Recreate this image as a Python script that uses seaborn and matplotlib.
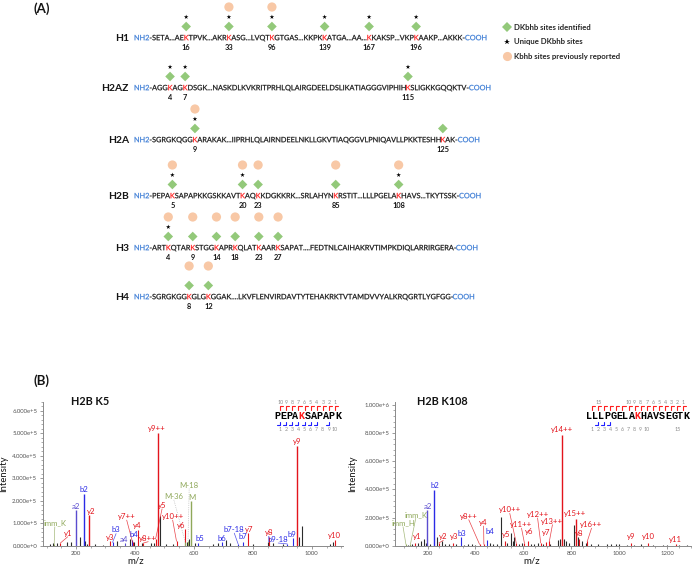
import numpy as np
import pandas as pd
import seaborn as sns
import matplotlib
matplotlib.use("Agg")
import matplotlib.pyplot as plt
from matplotlib.lines import Line2D
from matplotlib.patches import PathPatch
from matplotlib.textpath import TextPath
from matplotlib.font_manager import FontProperties, findfont, get_font
from matplotlib.ticker import FuncFormatter, MultipleLocator, AutoMinorLocator

# ---------------- panel A: histone sequences ----------------
histones = ["H1", "H2AZ", "H2A", "H2B", "H3", "H4"]
# lowercase k marks a detected lysine site
sequences = [
    "SETA...AEkTPVK...AKRkASG...LVQTkGTGAS...KKPKkATGA...AA...kKAKSP...VKPkAAKP...AKKK",
    "AGGkAGkDSGK...NASKDLKVKRITPRHLQLAIRGDEELDSLIKATIAGGGVIPHIHkSLIGKKGQQKTV",
    "SGRGKQGGkARAKAK...IIPRHLQLAIRNDEELNKLLGKVTIAQGGVLPNIQAVLLPKKTESHHkAK",
    "PEPAkSAPAPKKGSKKAVTkAQkKDGKKRK...SRLAHYNkRSTIT...LLLPGELAkHAVS...TKYTSSK",
    "ARTkQTARkSTGGkAPRkQLATkAARkSAPAT....FEDTNLCAIHAKRVTIMPKDIQLARRIRGERA",
    "SGRGKGGkGLGkGGAK....LKVFLENVIRDAVTYTEHAKRKTVTAMDVVYALKRQGRTLYGFGG",
]
site_numbers = [
    [16, 33, 96, 139, 167, 196],
    [4, 7, 115],
    [9, 125],
    [5, 20, 23, 85, 108],
    [4, 9, 14, 18, 23, 27],
    [8, 12],
]
unique_sites = [
    [1, 1, 1, 1, 1, 1],
    [1, 1, 1],
    [1, 0],
    [1, 1, 0, 0, 1],
    [1, 0, 0, 0, 0, 0],
    [0, 0],
]
reported_sites = [
    [0, 1, 1, 0, 0, 0],
    [0, 0, 0],
    [1, 0],
    [1, 1, 1, 1, 1],
    [1, 1, 1, 1, 1, 1],
    [1, 1],
]
legend_labels = ["DKbhb sites identified", "Unique DKbhb sites", "Kbhb sites previously reported"]

# ---------------- panel B: MS/MS spectra ----------------
k5_title = "H2B K5"
k5_peptide = "PEPAKSAPAPK"
k5_ions = ["imm_K", "y1", "a2", "b2", "y2", "y3", "b3", "a4", "b4", "y7++", "y4", "y8++",
           "y9++", "y5", "y10++", "y6", "M-36", "M-18", "M", "b5", "b6", "b7-18", "b7",
           "y7", "y8", "b9-18", "b9", "y9", "y10"]
k5_mz = [126, 147, 199, 227, 245, 316, 324, 367, 389, 392, 409, 429,
         477, 470, 541, 570, 571, 580, 590, 614, 697, 750, 768,
         784, 855, 917, 935, 951, 1080]
k5_int = [8e3, 1.2e4, 1.59e5, 2.3e5, 1.35e5, 2e4, 1.5e4, 1e4, 2.5e4, 1.5e4, 7e4, 1.2e4,
          5.0e5, 3e4, 2e4, 7.3e4, 1.5e4, 2e4, 1.99e5, 1e4, 1.5e4, 8e3, 1.5e4,
          5.5e4, 4e4, 8e3, 3.3e4, 4.44e5, 2.5e4]
k5_other_mz = [112, 123, 134, 168, 182, 214, 231, 238, 264, 293, 338, 383, 398, 423, 456,
               464, 486, 507, 530, 575, 583, 603, 666, 683, 708, 722, 801, 850, 869, 903,
               956, 967, 1061, 1072]
k5_other_int = [7e3, 1e4, 1.3e4, 1.8e4, 1.5e4, 4e4, 2.2e4, 8e3, 6e3, 5e3, 2.2e4, 2.8e4,
                1.5e4, 1e4, 1e4, 1e4, 1.33e5, 8e3, 6e3, 1.5e4, 3e4, 1e4, 6e3, 1.2e4,
                2.5e4, 1e4, 8e3, 1.5e4, 1e4, 7e3, 4e4, 8.8e4, 8e3, 1.5e4]

k108_title = "H2B K108"
k108_peptide = "LLLPGELAKHAVSEGTK"
k108_ions = ["imm_H", "imm_K", "y1", "a2", "b2", "y2", "y3", "b3", "y8++", "y4", "b4",
             "y5", "y10++", "y11++", "y6", "y12++", "y7", "y13++", "y14++", "y15++",
             "y8", "y16++", "y9", "y10", "y11"]
k108_mz = [110, 129, 147, 199, 227, 248, 306, 340, 417, 435, 447,
           523, 570, 604, 618, 672, 693, 708, 761, 819,
           832, 866, 1049, 1120, 1235]
k108_int = [1e4, 1.2e4, 1.8e4, 2.52e5, 3.98e5, 2e4, 2e4, 6e4, 1e4, 1e4, 4e4,
            3e4, 2e4, 2e4, 3e4, 2e4, 2.5e4, 3e4, 7.88e5, 1.9e5,
            5e4, 3e4, 2e4, 2e4, 1.5e4]
k108_other_mz = [120, 135, 160, 172, 185, 195, 212, 238, 262, 275, 290, 320, 352, 370,
                 385, 400, 460, 475, 490, 506, 530, 547, 555, 562, 580, 595, 630, 645,
                 660, 680, 710, 745, 752, 770, 778, 790, 812, 826, 845, 860, 880, 910,
                 950, 965, 985, 1000, 1030, 1060, 1090, 1140, 1180, 1200, 1250, 1280]
k108_other_int = [8e3, 1.5e4, 2e4, 3.5e4, 4.5e4, 2.2e4, 1.5e4, 6e4, 3e4, 1.5e4, 1e4,
                  1.2e4, 8e3, 1.2e4, 1e4, 8e3, 2e4, 1.5e4, 1.2e4, 2.05e5, 1.8e4, 9e4,
                  3.5e4, 6e4, 1.5e4, 2e4, 1.5e4, 1.5e4, 2e4, 1.5e4, 1.2e4, 4e4, 5e4,
                  5e4, 3e4, 2e4, 1.5e5, 6e4, 3e4, 2e4, 1.2e4, 1e4, 1.5e4, 1.5e4, 1.2e4,
                  1e4, 8e3, 8e3, 1e4, 8e3, 8e3, 6e3, 8e3, 6e3]

# label placement (m/z, intensity) for each ion label, layout only
k5_label_pos = [(128, 1.0e5), (172, 5.6e4), (199, 1.76e5), (227, 2.48e5), (250, 1.52e5),
                (315, 3.6e4), (336, 7e4), (362, 2.7e4), (397, 4.8e4), (372, 1.3e5),
                (409, 9e4), (445, 3.4e4), (474, 5.2e5), (492, 1.8e5), (528, 1.3e5),
                (558, 8.8e4), (532, 2.2e5), (584, 2.7e5), (594, 2.16e5), (620, 3.4e4),
                (695, 3.4e4), (737, 7.2e4), (767, 4e4), (786, 7.2e4), (855, 5.7e4),
                (886, 2.8e4), (934, 5.2e4), (950, 4.62e5), (1078, 4.6e4)]
k108_label_pos = [(98, 1.6e5), (151, 2.2e5), (156, 6.4e4), (203, 2.8e5), (232, 4.3e5),
                  (266, 6.4e4), (309, 6.4e4), (344, 8.9e4), (372, 2.1e5), (434, 1.65e5),
                  (458, 9.9e4), (526, 8e4), (543, 2.55e5), (592, 1.5e5), (622, 9.9e4),
                  (659, 2.22e5), (694, 9.2e4), (721, 1.75e5), (759, 8.25e5), (815, 2.3e5),
                  (834, 8.9e4), (884, 1.5e5), (1049, 6.4e4), (1120, 6.8e4), (1235, 4.6e4)]

# ---------------- style ----------------
sns.set_style("white")
plt.rcParams["font.family"] = ["Lato", "DejaVu Sans"]

DARK = "#141414"
BLUE_TXT = "#3a7bd5"
RED_K = "#ff1a1a"
GREEN_D = "#93c97a"
PEACH = "#f8c8a6"
ION_COLORS = {"y": "#e3141c", "b": "#2a2ae6", "a": "#5a4ccf", "g": "#8fa85a"}

W, H = 692, 564
fig = plt.figure(figsize=(W / 100, H / 100), dpi=100)
# panel A canvas works in pixels, y measured downward from the top via Y()
axA = fig.add_axes([0, 0, 1, 1])


def Y(px):
    return H - px


# sequence text is drawn as paths so every residue sits on a sub-pixel position
seq_prop = FontProperties(family="Lato")
seq_font = get_font(findfont(seq_prop))
seq_font.set_size(100, 72)


def advances(s):
    return np.array([seq_font.load_char(ord(c)).linearHoriAdvance / 65536 for c in s])


seq_x0, seq_x1 = 134, 487
probe = "NH2-" + sequences[0].upper() + "-COOH"
probe_ink = TextPath((0, 0), probe, size=100, prop=seq_prop).get_extents().width
unit = probe_ink / advances(probe).sum()
scale = (seq_x1 - seq_x0) / probe_ink
seq_size = 100 * scale  # em size in pixels

row_y = [37, 87, 139, 195, 247, 296]
offsets = {"DKbhb": -10.5, "unique": -20, "reported": -30}

marks = []
for i, name in enumerate(histones):
    y = row_y[i]
    axA.text(129, Y(y + 3.6), name, fontsize=7.4, weight="bold", ha="right", va="baseline", color=DARK)
    full = "NH2-" + sequences[i].upper() + "-COOH"
    pen = seq_x0 + np.concatenate([[0], np.cumsum(advances(full))]) * unit * scale
    colours = [DARK] * len(full)
    colours[0:3] = [BLUE_TXT] * 3
    colours[-4:] = [BLUE_TXT] * 4
    k_idx = [4 + j for j, ch in enumerate(sequences[i]) if ch == "k"]
    for kk in k_idx:
        colours[kk] = RED_K
    # group consecutive characters of the same colour
    start = 0
    for end in range(1, len(full) + 1):
        if end == len(full) or colours[end] != colours[start]:
            tp = TextPath((pen[start], Y(y + 3.2)), full[start:end], size=seq_size, prop=seq_prop)
            axA.add_patch(PathPatch(tp, facecolor=colours[start], edgecolor=colours[start], lw=0.15))
            start = end
    k_centres = [(pen[kk] + pen[kk + 1]) / 2 for kk in k_idx]

    for j, kx in enumerate(k_centres):
        axA.text(kx, Y(y + 10.5), str(site_numbers[i][j]), fontsize=5.3, weight="bold",
                 ha="center", va="center", color=DARK)
        marks.append({"x": kx, "y": Y(y + offsets["DKbhb"]), "kind": "DKbhb"})
        if unique_sites[i][j]:
            marks.append({"x": kx, "y": Y(y + offsets["unique"]), "kind": "unique"})
        if reported_sites[i][j]:
            marks.append({"x": kx, "y": Y(y + offsets["reported"]), "kind": "reported"})

marks = pd.DataFrame(marks)
sns.scatterplot(
    data=marks, x="x", y="y", hue="kind", style="kind", size="kind",
    palette={"DKbhb": GREEN_D, "unique": "black", "reported": PEACH},
    markers={"DKbhb": "D", "unique": "*", "reported": "o"},
    sizes={"DKbhb": 24, "unique": 12, "reported": 44},
    linewidth=0, legend=False, ax=axA, zorder=3,
)
axA.set_xlim(0, W)
axA.set_ylim(0, H)
axA.axis("off")

handles = [
    Line2D([], [], ls="", marker="D", color=GREEN_D, markersize=5, markeredgewidth=0),
    Line2D([], [], ls="", marker="*", color="black", markersize=3.8, markeredgewidth=0),
    Line2D([], [], ls="", marker="o", color=PEACH, markersize=6.6, markeredgewidth=0),
]
fig.legend(handles, legend_labels, loc="upper left", bbox_to_anchor=(0.722, 0.963),
           frameon=False, prop={"size": 5.6, "weight": "bold"}, handlelength=1.0,
           handletextpad=0.5, labelspacing=0.95, borderaxespad=0)

axA.text(33, Y(9), "(A)", fontsize=9.5, weight="bold", ha="left", va="center", color=DARK)
axA.text(33, Y(381), "(B)", fontsize=9.5, weight="bold", ha="left", va="center", color=DARK)


# ---------------- spectra ----------------
def sci_fmt(v, pos):
    if v == 0:
        return "0.000e+0"
    e = int(np.floor(np.log10(abs(v)) + 1e-9))
    return f"{v / 10 ** e:.3f}e+{e}"


def draw_peptide(ax, seq, cx, cy, y_seen, b_seen):
    bbox = ax.get_position()
    w_px = bbox.width * W
    h_px = bbox.height * H
    fs = 7.3
    cw = 0.6 * fs * 100 / 72 / w_px
    px_y = 1 / h_px
    n = len(seq)
    x0 = cx - n * cw / 2
    for i, ch in enumerate(seq):
        ax.text(x0 + (i + 0.5) * cw, cy, ch, transform=ax.transAxes, fontsize=fs,
                family="Liberation Mono", weight="bold", ha="center", va="center",
                color=RED_K if (ch == "K" and i < n - 1) else "black")
    for j in range(1, n):
        gx = x0 + j * cw
        yk = n - j
        if yk in y_seen:
            ax.plot([gx, gx, gx + 0.5 * cw], [cy + 6 * px_y, cy + 9.5 * px_y, cy + 9.5 * px_y],
                    transform=ax.transAxes, color="#ff2020", lw=0.8, clip_on=False)
        if yk <= 10 or yk == 15:
            ax.text(gx, cy + 13.5 * px_y, str(yk), transform=ax.transAxes, fontsize=3.8,
                    ha="center", va="center", color="#8c8c8c")
        if j in b_seen:
            ax.plot([gx - 0.5 * cw, gx, gx], [cy - 9.5 * px_y, cy - 9.5 * px_y, cy - 6 * px_y],
                    transform=ax.transAxes, color="#2020ff", lw=0.8, clip_on=False)
        if j <= 10 or j == 15:
            ax.text(gx, cy - 13.5 * px_y, str(j), transform=ax.transAxes, fontsize=3.8,
                    ha="center", va="center", color="#8c8c8c")


def draw_spectrum(ax, title, ions, mz, inten, other_mz, other_int, label_pos,
                  xlim, ymax, ystep, xlab_x, ylab_x, title_x):
    ax.set_facecolor("none")
    ax.vlines(other_mz, 0, other_int, color="#2b2b2b", lw=0.8)
    kinds = [("g" if ion.startswith(("imm", "M")) else ion[0]) for ion in ions]
    for ion, kind, m, it, (lx, ly) in zip(ions, kinds, mz, inten, label_pos):
        col = ION_COLORS[kind]
        ax.vlines(m, 0, it, color=col, lw=1.0 if it > 1e5 else 0.8)
        ax.text(lx, ly, ion, fontsize=5.6, color=col, ha="center", va="center")
        if abs(lx - m) > 12 or ly - it > 0.07 * ymax:
            style = ":" if ion.startswith("M-") else "-"
            lcol = "#999999" if ion.startswith("M-") else col
            ax.plot([lx, m], [ly - 0.025 * ymax, it], color=lcol, lw=0.5, ls=style, alpha=0.8)
    ax.set_xlim(*xlim)
    ax.set_ylim(0, ymax)
    ax.yaxis.set_major_locator(MultipleLocator(ystep))
    ax.yaxis.set_minor_locator(AutoMinorLocator(5))
    ax.xaxis.set_major_locator(MultipleLocator(200))
    ax.xaxis.set_minor_locator(AutoMinorLocator(4))
    ax.yaxis.set_major_formatter(FuncFormatter(sci_fmt))
    ax.tick_params(axis="both", which="major", length=2.5, width=0.6, colors="#8a8a8a",
                   labelsize=4.3, labelcolor="#555555", pad=1.5)
    ax.tick_params(axis="both", which="minor", length=1.3, width=0.5, colors="#8a8a8a")
    ax.tick_params(axis="x", which="both", bottom=True)
    ax.tick_params(axis="y", which="both", left=True)
    sns.despine(ax=ax)
    for s in ("left", "bottom"):
        ax.spines[s].set_color("#8a8a8a")
        ax.spines[s].set_linewidth(0.7)
    ax.set_ylabel("Intensity", fontsize=6.8, color=DARK)
    ax.set_xlabel("m/z", fontsize=7, color=DARK)
    ax.yaxis.set_label_coords(ylab_x, 0.5)
    ax.xaxis.set_label_coords(xlab_x, -0.075)
    ax.text(title_x, 1.0, title, transform=ax.transAxes,
            fontsize=7.8, weight="bold", ha="left", va="center", color=DARK)


axL = fig.add_axes([0.0617, 0.0324, 0.434, 0.255])
draw_spectrum(axL, k5_title, k5_ions, k5_mz, k5_int, k5_other_mz, k5_other_int,
              k5_label_pos, (87, 1106), 6.4e5, 1e5, 0.31, -0.115, 0.095)
draw_peptide(axL, k5_peptide, 0.882, 0.904, set(range(1, 11)), {1, 2, 3, 4, 5, 6, 7, 9})

axR = fig.add_axes([0.571, 0.0324, 0.428, 0.255])
draw_spectrum(axR, k108_title, k108_ions, k108_mz, k108_int, k108_other_mz, k108_other_int,
              k108_label_pos, (65, 1300), 1.02e6, 2e5, 0.46, -0.13, 0.073)
draw_peptide(axR, k108_peptide, 0.819, 0.904, set(range(1, 17)), {2, 3, 4})

fig.savefig("out.png", dpi=100)
